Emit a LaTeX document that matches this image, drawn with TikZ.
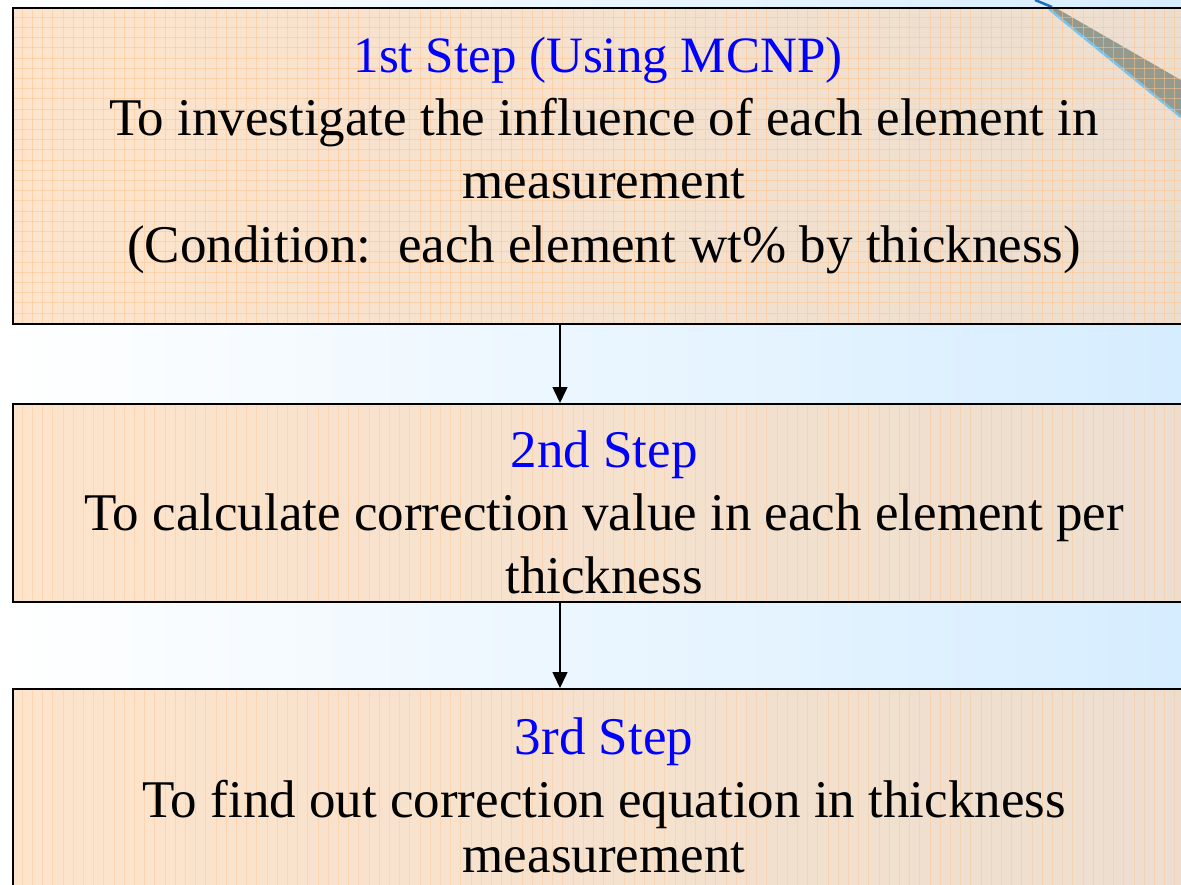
\documentclass[tikz,border=0pt]{standalone}
\usepackage{fontspec}
\setmainfont{Liberation Serif}
\usetikzlibrary{arrows.meta}
\definecolor{bgblue}{RGB}{214,237,255}
\definecolor{peachL}{RGB}{253,228,204}
\definecolor{peachR}{RGB}{236,222,207}
\definecolor{gridor}{RGB}{255,196,140}
\definecolor{bandgray}{RGB}{120,132,122}
\definecolor{bandblue}{RGB}{120,195,235}
\definecolor{darkblue}{RGB}{30,110,190}
\begin{document}
\begin{tikzpicture}[x=1pt,y=-1pt,
  boxfill/.style={anchor=north west, inner sep=0pt, outer sep=0pt, left color=peachL, right color=peachR},
  boxline/.style={draw=black, line width=2pt},
  gridline/.style={gridor, line width=1pt, opacity=0.5},
  title/.style={text=blue, font=\fontsize{53}{63}\selectfont, anchor=base, inner sep=0pt},
  body/.style={text=black, font=\fontsize{53}{63}\selectfont, anchor=base, inner sep=0pt},
  arr/.style={line width=1.5pt, -{Triangle[length=16pt,width=15pt]}}]
\useasboundingbox (0,0) rectangle (1181,884);
\clip (0,0) rectangle (1181,884);
\shade[left color=white, right color=bgblue] (0,0) rectangle (1181,884);

% boxes
\node[boxfill, minimum width=1190pt, minimum height=316pt] (b1) at (13,8) {};
\node[boxfill, minimum width=1190pt, minimum height=198pt] (b2) at (13,404) {};
\node[boxfill, minimum width=1190pt, minimum height=220pt] (b3) at (13,689) {};

% decorative band on first box
\fill[bandgray, opacity=0.75] (1056,8) -- (1181,80) -- (1181,116) -- (1049,8) -- cycle;
\draw[bandblue, line width=2.5pt] (1049,9) -- (1181,117);
\draw[darkblue, line width=2.5pt] (1035,0) -- (1052,7);

% grids
\begin{scope}
  \clip (b1.north west) rectangle (b1.south east);
  \foreach \x in {22.3,32.5,...,1200} \draw[gridline] (\x,8) -- (\x,324);
  \foreach \y in {17.3,27.5,...,324} \draw[gridline] (13,\y) -- (1200,\y);
\end{scope}
\begin{scope}
  \clip (b2.north west) rectangle (b2.south east);
  \foreach \x in {22.3,32.5,...,1200} \draw[gridline, opacity=0.4] (\x,404) -- (\x,602);
\end{scope}
\begin{scope}
  \clip (b3.north west) rectangle (b3.south east);
  \foreach \x in {22.3,32.5,...,1200} \draw[gridline, opacity=0.4] (\x,689) -- (\x,900);
\end{scope}

\draw[boxline] (b1.north west) rectangle (b1.south east);
\draw[boxline] (b2.north west) rectangle (b2.south east);
\draw[boxline] (b3.north west) rectangle (b3.south east);

% texts
\node[title, font=\fontsize{51}{63}\selectfont] (t1a) at (598,72) {1st Step (Using MCNP)};
\node[body] (t1b) at (604,135) {To investigate the influence of each element in};
\node[body] (t1c) at (604,198) {measurement};
\node[body] (t1d) at (604,262) {(Condition:\ \ each element wt\% by thickness)};

\node[title] (t2a) at (604,467) {2nd Step};
\node[body] (t2b) at (604,530) {To calculate correction value in each element per};
\node[body] (t2c) at (604,593) {thickness};

\node[title] (t3a) at (604,754) {3rd Step};
\node[body] (t3b) at (604,817) {To find out correction equation in thickness};
\node[body] (t3c) at (604,872) {measurement};

% arrows
\coordinate (a1s) at (560,325);
\coordinate (a1e) at (560,403);
\coordinate (a2s) at (560,603);
\coordinate (a2e) at (560,688);
\draw[arr] (a1s) -- (a1e);
\draw[arr] (a2s) -- (a2e);
\end{tikzpicture}
\end{document}
